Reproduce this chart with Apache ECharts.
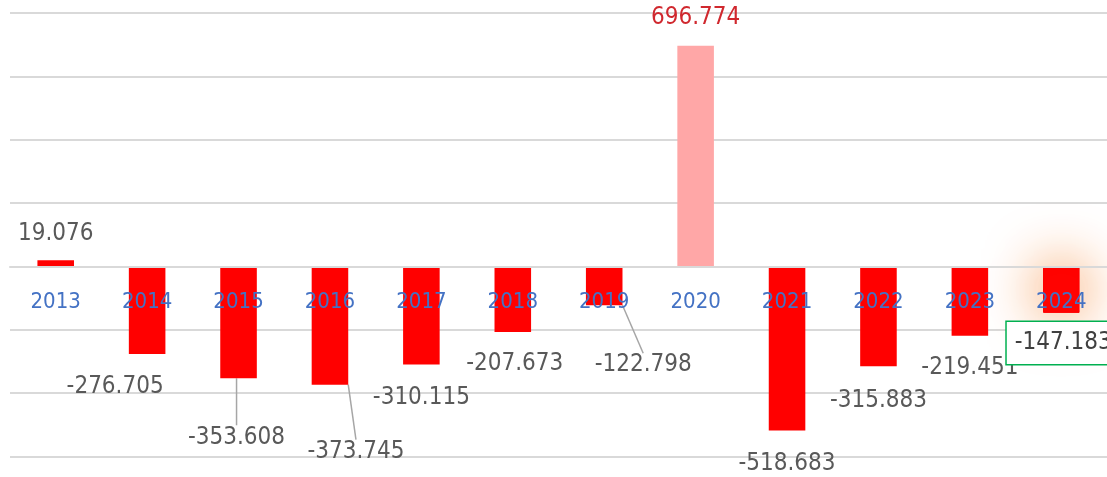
<!DOCTYPE html>
<html>
<head>
<meta charset="utf-8">
<script src="https://cdn.jsdelivr.net/npm/echarts@6/dist/echarts.min.js"></script>
<style>
  html, body { margin: 0; padding: 0; background: #fff; }
  #chart { width: 1107px; height: 477px; }
</style>
</head>
<body>
<div id="chart"></div>
<script>
// 数据
var categories = ['2013', '2014', '2015', '2016', '2017', '2018', '2019', '2020', '2021', '2022', '2023', '2024'];
var values = [19.076, -276.705, -353.608, -373.745, -310.115, -207.673, -122.798, 696.774, -518.683, -315.883, -219.451, -147.183];

// y轴范围
var yMin = -600, yMax = 800, yStep = 200;

// 标签相对柱子末端的偏移 [dx, dy]
var labelOffsets = [[0, -27], [-32, 33], [-2, 59], [26, 67], [0, 33], [2, 32], [39, 60], [0, -28], [0, 33], [0, 34], [0, 32], [2, 30]];
// 有引导线的标签
var leaderIndex = [2, 3, 6];

var FONT = "'DejaVu Sans Condensed', 'DejaVu Sans', sans-serif";

var gridTop = 13, gridBottom = 20.7, chartH = 477;
// x轴放在 0 的位置
var plotH = chartH - gridTop - gridBottom;
var axisOffset = -plotH * (0 - yMin) / (yMax - yMin);

var chart = echarts.init(document.getElementById('chart'));

var seriesData = values.map(function (v, i) {
  var item = { value: v };
  if (categories[i] === '2020') {
    item.itemStyle = { color: '#FFA7A7' };
    item.label = { color: '#D0282E' };
  }
  if (categories[i] === '2024') {
    // 高亮：橙色光晕 + 绿色边框标签
    item.itemStyle = {
      color: '#FF0000',
      borderColor: '#FF0000',
      borderWidth: 1,
      shadowBlur: 56,
      shadowColor: 'rgb(242, 125, 40)'
    };
    item.label = {
      color: '#404040',
      borderColor: '#00B050',
      borderWidth: 1.5,
      backgroundColor: '#fff',
      padding: [9, 8, 9, 8]
    };
  }
  if (leaderIndex.indexOf(i) > -1) {
    item.labelLine = { show: true };
  }
  return item;
});

var option = {
  animation: false,
  grid: {
    left: 10,
    right: 0,
    top: gridTop,
    bottom: gridBottom,
    outerBoundsMode: 'none'
  },
  xAxis: {
    type: 'category',
    data: categories,
    z: 10,
    offset: axisOffset,
    axisLine: { onZero: false, lineStyle: { color: '#D9D9D9', width: 2 } },
    axisTick: { show: false },
    axisLabel: {
      color: '#4472C4',
      fontFamily: FONT,
      fontSize: 22,
      margin: 25,
      interval: 0
    }
  },
  yAxis: {
    type: 'value',
    min: yMin,
    max: yMax,
    interval: yStep,
    axisLabel: { show: false },
    axisLine: { show: false },
    axisTick: { show: false },
    splitLine: { lineStyle: { color: '#D9D9D9', width: 2 } }
  },
  series: [{
    type: 'bar',
    data: seriesData,
    barWidth: '40%',
    itemStyle: { color: '#FF0000' },
    label: {
      show: true,
      fontFamily: FONT,
      fontSize: 24,
      color: '#595959',
      formatter: function (p) { return p.value.toFixed(3); }
    },
    labelLine: {
      show: false,
      lineStyle: { color: '#A6A6A6', width: 1.5 }
    },
    labelLayout: function (p) {
      var o = labelOffsets[p.dataIndex];
      var r = p.rect;
      var endY = values[p.dataIndex] >= 0 ? r.y : r.y + r.height;
      return {
        x: r.x + r.width / 2 + o[0],
        y: endY + o[1],
        align: 'center',
        verticalAlign: 'middle'
      };
    }
  }]
};

chart.setOption(option);
</script>
</body>
</html>
